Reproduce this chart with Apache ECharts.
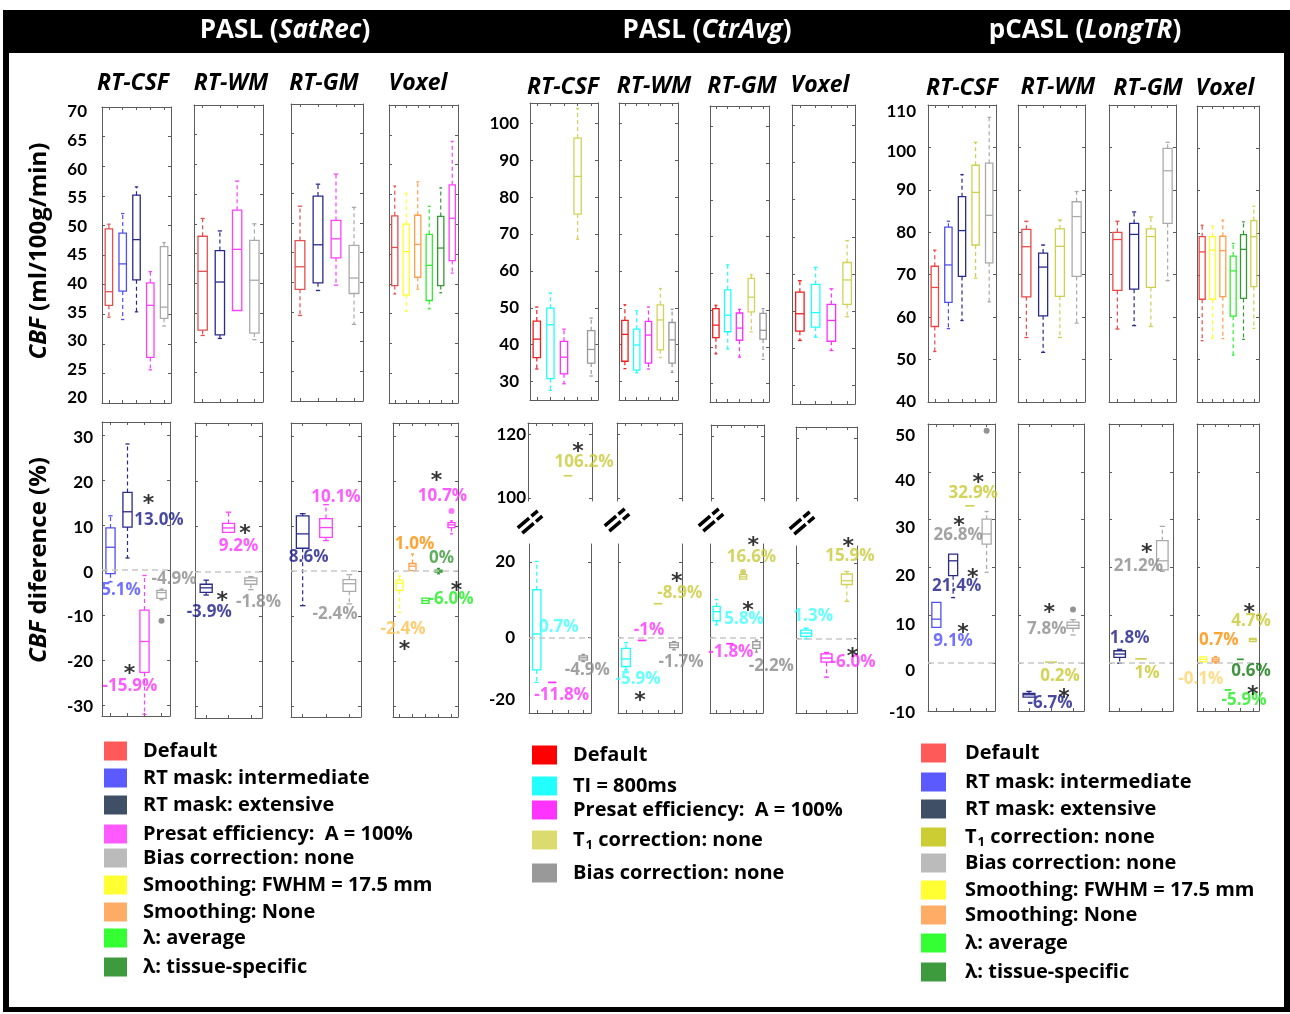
<!DOCTYPE html>
<html><head><meta charset="utf-8">
<script src="https://cdn.jsdelivr.net/npm/echarts@6/dist/echarts.min.js"></script>
<style>html,body{margin:0;padding:0;background:#fff}#c{width:1290px;height:1014px}</style>
</head><body><div id="c"></div>
<script>
// ---------------- DATA (box stats: [min, Q1, median, Q3, max]) ----------------
// PASL (SatRec) — CBF (ml/100g/min)
const satRecCBF_CSF_keys = ['def','int','ext','pre','bias'];
const satRecCBF_CSF = [[34.5,36.5,38.8,49.4,50.2],[34.1,38.9,43.5,48.7,52.0],[35.4,40.8,47.6,55.1,56.5],[25.6,27.7,36.5,40.3,42.2],[33.0,34.3,36.2,46.4,47.1]];
const satRecCBF_WM_keys = ['def','ext','pre','bias'];
const satRecCBF_WM = [[31.2,32.1,42.0,47.9,50.9],[30.7,31.3,40.2,45.5,48.8],[35.3,35.4,45.7,52.3,57.2],[30.5,31.6,40.5,47.2,50.0]];
const satRecCBF_GM_keys = ['def','ext','pre','bias'];
const satRecCBF_GM = [[34.4,38.8,42.6,47.0,52.8],[38.6,39.9,46.3,54.5,56.5],[39.5,44.1,47.3,50.4,58.2],[32.9,38.1,40.7,46.2,52.6]];
const satRecCBF_VOX_keys = ['def','fwhm','none','lavg','ltis','pre'];
const satRecCBF_VOX = [[38.3,39.7,46.1,51.4,56.4],[35.4,38.1,45.4,50.0,55.2],[39.1,41.1,46.6,51.5,57.1],[35.8,37.2,43.1,48.3,53.0],[38.5,39.7,46.0,51.3,56.1],[41.8,43.9,51.0,56.6,63.9]];
// PASL (SatRec) — CBF difference (%)
const satRecDiff_CSF_keys = ['int','ext','pre','bias'];
const satRecDiff_CSF = [[-2.6,-0.8,5.1,9.4,12.1],[2.7,9.6,13.0,17.3,28.1],[-32.1,-22.8,-15.9,-8.9,-1.2],[-6.6,-6.3,-5.0,-4.5,-4.2]];
const satRecDiff_WM_keys = ['ext','pre','bias'];
const satRecDiff_WM = [[-5.2,-4.6,-3.6,-2.8,-1.9],[8.5,8.7,9.7,10.7,13.2],[-4.0,-2.8,-2.0,-1.4,-1.1]];
const satRecDiff_GM_keys = ['ext','pre','bias'];
const satRecDiff_GM = [[-7.7,5.1,8.3,12.3,12.8],[6.8,7.5,9.7,11.7,14.8],[-7.3,-4.5,-2.8,-1.9,-0.8]];
const satRecDiff_VOX_keys = ['fwhm','none','lavg','ltis','pre'];
const satRecDiff_VOX = [[-9.2,-4.3,-2.7,-2.0,-1.1],[0.0,0.1,1.1,1.7,3.8],[-7.2,-7.2,-6.6,-6.0,-6.0],[-0.6,-0.2,0.0,0.2,0.6],[8.3,9.7,10.3,10.8,11.2]];

// PASL (CtrAvg) — CBF
const ctrAvgCBF_keys = ['def','ti','pre','t1','bias'];
const ctrAvgCBF_CSF = [[33.4,36.5,41.5,46.4,50.2],[27.6,30.8,45.4,49.9,54.0],[29.4,32.1,36.6,40.9,44.2],[68.6,75.4,85.6,96.0,104.0],[31.5,35.0,38.7,43.8,47.2]];
const ctrAvgCBF_WM = [[33.5,35.5,42.8,46.6,50.8],[32.4,33.1,39.9,44.2,49.2],[33.4,35.0,42.6,46.3,50.2],[36.5,38.6,46.7,50.8,55.2],[32.5,35.0,41.3,46.0,49.6]];
const ctrAvgCBF_GM = [[38.1,42.5,45.9,50.4,51.3],[39.4,44.1,48.6,55.5,62.3],[37.2,41.8,45.1,49.2,50.2],[44.1,49.5,53.5,58.6,59.6],[36.6,42.1,44.5,49.1,50.4]];
const ctrAvgCBF_VOX_keys = ['def','ti','pre','t1'];
const ctrAvgCBF_VOX = [[42.1,44.6,49.3,55.1,58.2],[43.0,45.7,49.6,57.2,61.8],[39.4,41.9,47.5,51.8,56.0],[48.5,51.8,58.4,63.1,69.0]];
// PASL (CtrAvg) — CBF difference (%)
const ctrAvgDiff_keys = ['ti','pre','t1','bias'];
const ctrAvgDiff_CSF = [[-11.9,-8.6,0.9,12.6,20.1],[-11.9,-11.9,-11.9,-11.9,-11.9],[106.9,107.0,107.0,107.0,107.1],[-6.4,-6.0,-5.4,-4.9,-4.5]];
const ctrAvgDiff_WM = [[-8.6,-7.7,-5.7,-2.9,-1.4],[-0.8,-0.8,-0.8,-0.8,-0.8],[8.9,8.9,8.9,8.9,8.9],[-3.3,-2.7,-2.0,-1.4,-1.1]];
const ctrAvgDiff_GM = [[3.3,4.4,6.8,8.2,10.0],[-1.7,-1.7,-1.7,-1.7,-1.7],[15.4,15.4,16.0,16.6,16.6],[-3.9,-2.9,-2.0,-1.1,-0.7]];
const ctrAvgDiff_VOX_keys = ['ti','pre','t1'];
const ctrAvgDiff_VOX = [[-0.2,0.5,1.4,2.2,2.7],[-10.4,-6.4,-5.3,-4.2,-3.8],[9.9,14.4,15.4,17.2,17.9]];

// pCASL (LongTR) — CBF
const longTRCBF_CSF_keys = ['def','int','ext','t1','bias'];
const longTRCBF_CSF = [[51.9,57.8,67.0,72.0,75.8],[57.3,63.5,72.3,81.2,82.6],[59.2,69.6,80.4,88.4,93.6],[69.2,77.0,89.4,95.8,101.2],[63.6,72.8,84.0,96.3,107.1]];
const longTRCBF_WM_keys = ['def','ext','t1','bias'];
const longTRCBF_WM = [[55.2,64.8,76.6,80.7,82.6],[51.7,60.3,71.8,75.1,77.0],[55.2,64.9,76.7,80.8,82.9],[58.6,69.6,83.7,87.2,89.6]];
const longTRCBF_GM_keys = ['def','ext','t1','bias'];
const longTRCBF_GM = [[57.2,66.3,78.3,80.0,82.6],[58.0,66.6,79.5,82.1,84.8],[57.8,67.0,79.0,80.8,83.6],[68.6,82.1,94.5,99.8,101.2]];
const longTRCBF_VOX_keys = ['def','fwhm','none','lavg','ltis','t1'];
const longTRCBF_VOX = [[54.5,64.3,75.5,79.1,81.8],[55.1,64.3,75.9,79.1,81.6],[55.0,64.9,75.8,79.2,83.0],[51.1,60.3,71.0,74.5,77.5],[54.8,64.5,76.1,79.6,82.6],[57.4,67.3,79.1,82.9,86.3]];
// pCASL (LongTR) — CBF difference (%)
const longTRDiff_CSF_keys = ['int','ext','t1','bias'];
const longTRDiff_CSF = [[7.3,7.5,9.2,12.7,12.9],[13.7,18.3,21.4,22.8,23.0],[32.9,32.9,32.9,32.9,32.9],[19.0,24.9,27.0,30.1,31.7]];
const longTRDiff_WM_keys = ['ext','t1','bias'];
const longTRDiff_WM = [[-7.3,-7.1,-6.6,-6.3,-5.9],[0.2,0.2,0.2,0.2,0.2],[5.9,7.3,7.9,8.6,9.1]];
const longTRDiff_GM_keys = ['ext','t1','bias'];
const longTRDiff_GM = [[0.0,1.2,1.9,2.6,2.9],[0.9,0.9,0.9,0.9,0.9],[19.2,19.5,21.4,25.6,28.6]];
const longTRDiff_VOX_keys = ['fwhm','none','lavg','ltis','t1'];
const longTRDiff_VOX = [[0.2,0.3,0.8,1.3,1.5],[0.0,0.3,0.7,1.1,1.4],[-5.6,-5.6,-5.6,-5.6,-5.6],[0.8,0.8,0.8,0.8,0.8],[4.5,4.5,4.9,5.2,5.2]];

// Outliers: [panel, category index, value, colour key]
const outlierPoints = [['p1b0',3,-11.3,'g'],['p1b3',4,13.4,'m'],['p2b2l',2,17.3,'o'],['p3b0',3,48.6,'g'],['p3b1',2,11.2,'g']];

// Tick labels
const ticksP1Top = [20,25,30,35,40,45,50,55,60,65,70];
const ticksP1Bot = [-30,-20,-10,0,10,20,30];
const ticksP2Top = [30,40,50,60,70,80,90,100];
const ticksP2BotUp = [100,120];
const ticksP2BotLow = [-20,0,20];
const ticksP3Top = [40,50,60,70,80,90,100,110];
const ticksP3Bot = [-10,0,10,20,30,40,50];

// Texts
const panelTitles = [['PASL (','SatRec',')'],['PASL (','CtrAvg',')'],['pCASL (','LongTR',')']];
const regionNames = ['RT-CSF','RT-WM','RT-GM','Voxel'];
const yNameTop = ['CBF',' (ml/100g/min)'];
const yNameBot = ['CBF',' diference (%)'];
const legendP1 = ['Default','RT mask: intermediate','RT mask: extensive','Presat efficiency:  A = 100%','Bias correction: none','Smoothing: FWHM = 17.5 mm','Smoothing: None','λ: average','λ: tissue-specific'];
const legendP1Keys = ['def','int','ext','pre','bias','fwhm','none','lavg','ltis'];
const legendP2 = ['Default','TI = 800ms','Presat efficiency:  A = 100%','T1 correction: none','Bias correction: none'];
const legendP2Keys = ['def','ti','pre','t1','bias'];
const legendP3 = ['Default','RT mask: intermediate','RT mask: extensive','T1 correction: none','Bias correction: none','Smoothing: FWHM = 17.5 mm','Smoothing: None','λ: average','λ: tissue-specific'];
const legendP3Keys = ['def','int','ext','t1','bias','fwhm','none','lavg','ltis'];

// Percentage annotations: [panel, category, value, text, colour key, dx, dy]
const annotations = [
 ['p1b0',0,-4.4,'5.1%','int',10.5],['p1b0',1,11.2,'13.0%','ext',31.5],['p1b0',1,15.9,'*','star',21],
 ['p1b0',1,-25.9,'-15.9%','pre',2.5],['p1b0',1,-21.8,'*','star',2],['p1b0',3,-2.0,'-4.9%','gray',12.5],
 ['p1b1',0,-8.9,'-3.9%','ext',3],['p1b1',0,-5.3,'*','star',16],['p1b1',1,5.6,'9.2%','pre',10],
 ['p1b1',1,9.6,'*','star',16.5],['p1b1',2,-6.7,'-1.8%','gray',7.7],
 ['p1b2',0,3.2,'8.6%','ext',6],['p1b2',1,16.5,'10.1%','pre',10],['p1b2',2,-9.6,'-2.4%','gray',-14.3],
 ['p1b3',0,-12.9,'-2.4%','lorange',3.5],['p1b3',0,-16.3,'*','star',5],['p1b3',1,6.1,'1.0%','orange',2],
 ['p1b3',3,3.0,'0%','dkg',3],['p1b3',2,-6.3,'-6.0%','green',25.5],['p1b3',4,-3.1,'*','star',5],
 ['p1b3',4,16.7,'10.7%','pre',-9],['p1b3',4,21.4,'*','star',-15],
 ['p2b0u',2,111.2,'106.2%','t1a',16],['p2b0u',2,116.3,'*','star',10],
 ['p2b0l',0,2.8,'0.7%','cyan',22],['p2b0l',1,-15.2,'-11.8%','pre',9.5],['p2b0l',3,-8.8,'-4.9%','grayB',4],
 ['p2b1l',0,-11.0,'-5.9%','cyan',12],['p2b1l',0,-15.4,'*','star',14],['p2b1l',1,2.0,'-1%','pre',7],
 ['p2b1l',2,11.7,'-8.9%','t1a',21.7],['p2b1l',3,16.2,'*','star',2.7],['p2b1l',3,-6.6,'-1.7%','grayB',7],
 ['p2b2l',2,4.9,'5.8%','cyan',1],['p2b2l',2,8.6,'*','star',5],['p2b2l',1,-3.9,'-1.8%','pre',1],
 ['p2b2l',2,21.1,'16.6%','t1a',8.4],['p2b2l',2,21.1,'*','star',10.2,-17],['p2b2l',3,-7.5,'-2.2%','grayB',15],
 ['p2b3l',0,5.8,'1.3%','cyan',7],['p2b3l',1,-6.4,'-6.0%','pre',26.5],['p2b3l',1,-3.6,'*','star',26],
 ['p2b3l',2,22.0,'15.9%','t1a',3],['p2b3l',2,22.0,'*','star',1.5,-15],
 ['p3b0',1,4.7,'9.1%','int',0],['p3b0',1,7.6,'*','star',10],['p3b0',1,16.2,'21.4%','ext',3.6],
 ['p3b0',2,18.9,'*','star',3],['p3b0',2,35.6,'32.9%','t1b',3.4],['p3b0',2,38.9,'*','star',8.4],
 ['p3b0',1,26.8,'26.8%','gray',5],['p3b0',1,29.8,'*','star',6],
 ['p3b1',1,-8.4,'-6.7%','ext',-1],['p3b1',1,-6.0,'*','star',13],['p3b1',1,-2.7,'0.2%','t1b',9],
 ['p3b1',1,7.1,'7.8%','gray',-4.3],['p3b1',1,11.6,'*','star',-1.7],
 ['p3b2',0,5.2,'1.8%','ext',10],['p3b2',1,-2.1,'1%','t1b',6],['p3b2',1,20.3,'21.2%','gray',-2.7],['p3b2',1,24.2,'*','star',5.7],
 ['p3b3',0,-3.4,'-0.1%','lyel',-2.4],['p3b3',1,4.8,'0.7%','orange',3.2],['p3b3',2,-7.7,'-5.9%','green',16],
 ['p3b3',4,-5.5,'*','star',0],['p3b3',3,-1.6,'0.6%','dkg2',10.6],['p3b3',4,8.7,'4.7%','t1b',-1.8],['p3b3',4,11.7,'*','star',-3.5]
];

// ---------------- STYLES ----------------
const FONT = 'Lato, "Open Sans", "DejaVu Sans", sans-serif';
const FONT2 = '"Open Sans", Lato, "DejaVu Sans", sans-serif';
const STARFONT = '"DejaVu Sans", sans-serif';
const AX = '#5c5c5c';
const BOX = {
  P1:{def:'#e25050',int:'#5050f0',ext:'#2a2a8a',pre:'#ff40ff',bias:'#aaaaaa',fwhm:'#ffff30',none:'#ff9f4a',lavg:'#30ee30',ltis:'#349a34'},
  P2:{def:'#f02020',ti:'#20ffff',pre:'#ff30ff',t1:'#d2d25a',bias:'#999999'},
  P3:{def:'#ec4848',int:'#5050f0',ext:'#2a2a8a',t1:'#cfcf50',bias:'#aaaaaa',fwhm:'#ffff30',none:'#ff9f4a',lavg:'#30ee30',ltis:'#349a34'}
};
const LEG = {
  P1:{def:'#ff5a5a',int:'#5a5aff',ext:'#3f5066',pre:'#ff5aff',bias:'#bbbbbb',fwhm:'#ffff33',none:'#ffad66',lavg:'#33ff33',ltis:'#3d9b3d'},
  P2:{def:'#ff0000',ti:'#22ffff',pre:'#ff33ff',t1:'#dcdc6e',bias:'#999999'},
  P3:{def:'#ff5a5a',int:'#5a5aff',ext:'#3f5066',t1:'#cccc33',bias:'#bbbbbb',fwhm:'#ffff33',none:'#ffad66',lavg:'#33ff33',ltis:'#3d9b3d'}
};
const TXT = {int:'#4d4dff',ext:'#1c1c87',pre:'#ff33ff',gray:'#8c8c8c',grayB:'#8a8a8a',t1a:'#c9c93a',t1b:'#c8c830',
  cyan:'#40ffff',orange:'#ff8c00',lorange:'#ffc14d',green:'#22ee22',dkg:'#3a9a3a',dkg2:'#127a12',lyel:'#ffd36a',star:'#000'};
const OUTC = {g:'#777777',m:'#ff55ff',o:'#c8c850'};

const axisDefs = {
  p1t:{min:20,max:70,ticks:ticksP1Top,margin:15,shift:v=>5-(70-v)/5},
  p1b:{min:-32.5,max:33,ticks:ticksP1Bot,margin:9,shift:v=>2,zero:true},
  p2t:{min:25,max:105.5,ticks:ticksP2Top,margin:11,shift:v=>0},
  p2bu:{min:99,max:123.7,ticks:ticksP2BotUp,margin:2,shift:v=>0},
  p2bl:{min:-20,max:24.7,ticks:ticksP2BotLow,margin:14,shift:v=>v===-20?-13:0,zero:true},
  p3t:{min:40,max:110,ticks:ticksP3Top,margin:12,shift:v=>({110:7,100:4})[v]||0},
  p3b:{min:-10,max:50,ticks:ticksP3Bot,margin:13,shift:v=>({50:12,40:9,30:8,20:8,10:9,0:7})[v]||2,zero:true}
};

const hi = s => s[2] > 60, lo = s => s[2] < 60;
const panels = [
 {id:'p1t0',box:[102,107,69,296],ax:'p1t',keys:satRecCBF_CSF_keys,stats:satRecCBF_CSF,pal:'P1',lab:true},
 {id:'p1t1',box:[194,105,69,297],ax:'p1t',keys:satRecCBF_WM_keys,stats:satRecCBF_WM,pal:'P1'},
 {id:'p1t2',box:[291,104,72,297],ax:'p1t',keys:satRecCBF_GM_keys,stats:satRecCBF_GM,pal:'P1'},
 {id:'p1t3',box:[389,105,69,298],ax:'p1t',keys:satRecCBF_VOX_keys,stats:satRecCBF_VOX,pal:'P1'},
 {id:'p1b0',box:[102,422,68,294],ax:'p1b',keys:satRecDiff_CSF_keys,stats:satRecDiff_CSF,pal:'P1',lab:true},
 {id:'p1b1',box:[195,423,67,295],ax:'p1b',keys:satRecDiff_WM_keys,stats:satRecDiff_WM,pal:'P1'},
 {id:'p1b2',box:[291,423,70,294],ax:'p1b',keys:satRecDiff_GM_keys,stats:satRecDiff_GM,pal:'P1'},
 {id:'p1b3',box:[393,423,65,294],ax:'p1b',keys:satRecDiff_VOX_keys,stats:satRecDiff_VOX,pal:'P1'},
 {id:'p2t0',box:[530,103,68,297],ax:'p2t',keys:ctrAvgCBF_keys,stats:ctrAvgCBF_CSF,pal:'P2',lab:true},
 {id:'p2t1',box:[619,103,59,297],ax:'p2t',keys:ctrAvgCBF_keys,stats:ctrAvgCBF_WM,pal:'P2'},
 {id:'p2t2',box:[710,106,59,296],ax:'p2t',keys:ctrAvgCBF_keys,stats:ctrAvgCBF_GM,pal:'P2'},
 {id:'p2t3',box:[792,105,63,299],ax:'p2t',keys:ctrAvgCBF_VOX_keys,stats:ctrAvgCBF_VOX,pal:'P2'},
 {id:'p2b0u',box:[528,423,64,78],ax:'p2bu',keys:ctrAvgDiff_keys,stats:ctrAvgDiff_CSF,pal:'P2',lab:true,filter:hi,noBottom:true},
 {id:'p2b1u',box:[617,423,65,78],ax:'p2bu',keys:ctrAvgDiff_keys,stats:ctrAvgDiff_WM,pal:'P2',filter:hi,noBottom:true},
 {id:'p2b2u',box:[711,425,53,76],ax:'p2bu',keys:ctrAvgDiff_keys,stats:ctrAvgDiff_GM,pal:'P2',filter:hi,noBottom:true},
 {id:'p2b3u',box:[796,427,61,74],ax:'p2bu',keys:ctrAvgDiff_VOX_keys,stats:ctrAvgDiff_VOX,pal:'P2',filter:hi,noBottom:true},
 {id:'p2b0l',box:[529,544,62,169],ax:'p2bl',keys:ctrAvgDiff_keys,stats:ctrAvgDiff_CSF,pal:'P2',lab:true,filter:lo,noTop:true},
 {id:'p2b1l',box:[618,544,64,169],ax:'p2bl',keys:ctrAvgDiff_keys,stats:ctrAvgDiff_WM,pal:'P2',filter:lo,noTop:true},
 {id:'p2b2l',box:[710,544,53,169],ax:'p2bl',keys:ctrAvgDiff_keys,stats:ctrAvgDiff_GM,pal:'P2',filter:lo,noTop:true},
 {id:'p2b3l',box:[796,546,61,167],ax:'p2bl',keys:ctrAvgDiff_VOX_keys,stats:ctrAvgDiff_VOX,pal:'P2',filter:lo,noTop:true},
 {id:'p3t0',box:[928,105,68,297],ax:'p3t',keys:longTRCBF_CSF_keys,stats:longTRCBF_CSF,pal:'P3',lab:true},
 {id:'p3t1',box:[1018,105,67,297],ax:'p3t',keys:longTRCBF_WM_keys,stats:longTRCBF_WM,pal:'P3'},
 {id:'p3t2',box:[1109,105,67,297],ax:'p3t',keys:longTRCBF_GM_keys,stats:longTRCBF_GM,pal:'P3'},
 {id:'p3t3',box:[1197,106,62,296],ax:'p3t',keys:longTRCBF_VOX_keys,stats:longTRCBF_VOX,pal:'P3'},
 {id:'p3b0',box:[928,424,67,287],ax:'p3b',keys:longTRDiff_CSF_keys,stats:longTRDiff_CSF,pal:'P3',lab:true},
 {id:'p3b1',box:[1018,424,66,287],ax:'p3b',keys:longTRDiff_WM_keys,stats:longTRDiff_WM,pal:'P3'},
 {id:'p3b2',box:[1109,424,64,287],ax:'p3b',keys:longTRDiff_GM_keys,stats:longTRDiff_GM,pal:'P3'},
 {id:'p3b3',box:[1197,424,62,287],ax:'p3b',keys:longTRDiff_VOX_keys,stats:longTRDiff_VOX,pal:'P3'}
];

function renderBox(params, api) {
  const x = api.value(0);
  const v = [1,2,3,4,5].map(i => api.value(i));
  const pts = v.map(val => api.coord([x, val]));
  const cx = pts[0][0];
  const y = pts.map(p => p[1]);
  const band = api.size([1,0])[0];
  const bw = Math.max(6, band * 0.54);
  const cw = bw * 0.45;
  const col = api.visual('color');
  const solid = {stroke:col, lineWidth:1.3, fill:null};
  const dashed = {stroke:col, lineWidth:1.2, lineDash:[4,3], fill:null};
  const L = (x1,y1,x2,y2,st) => ({type:'line', shape:{x1,y1,x2,y2}, style:st});
  const ch = [];
  if (Math.abs(y[1]-y[3]) < 1.5) {
    ch.push(L(cx-bw/2,y[2],cx+bw/2,y[2],{stroke:col,lineWidth:1.7}));
  } else {
    ch.push({type:'rect', shape:{x:cx-bw/2, y:y[3], width:bw, height:y[1]-y[3]}, style:{stroke:col, lineWidth:1.3, fill:'none'}});
    ch.push(L(cx-bw/2,y[2],cx+bw/2,y[2],solid));
  }
  if (y[0]-y[1] > 1) { ch.push(L(cx,y[1],cx,y[0],dashed)); ch.push(L(cx-cw/2,y[0],cx+cw/2,y[0],solid)); }
  if (y[3]-y[4] > 1) { ch.push(L(cx,y[3],cx,y[4],dashed)); ch.push(L(cx-cw/2,y[4],cx+cw/2,y[4],solid)); }
  return {type:'group', children:ch};
}

const grid = [], xAxis = [], yAxis = [], series = [];
panels.forEach((p, gi) => {
  const a = axisDefs[p.ax];
  const [l,t,w,h] = p.box;
  grid.push({left:l, top:t, width:w, height:h, containLabel:false});
  const cats = p.keys.map((k,i) => k + i);
  const ls = {color:AX, width:1};
  const xa = (pos, show) => ({gridIndex:gi, type:'category', data:cats, position:pos, boundaryGap:true,
    axisLine:{show, onZero:false, lineStyle:ls},
    axisTick:{show, inside:true, alignWithLabel:true, interval:0, length:3, lineStyle:ls},
    axisLabel:{show:false}, splitLine:{show:false}});
  xAxis.push(xa('bottom', !p.noBottom));
  xAxis.push(xa('top', !p.noTop));
  const rich = {};
  const fmt = v => {
    const s = Math.round(a.shift(v));
    const key = 's' + (s < 0 ? 'm' + (-s) : s);
    if (!rich[key]) rich[key] = {fontFamily:FONT, fontWeight:'bold', fontSize:17, color:'#000',
      padding: s >= 0 ? [2*s,0,0,0] : [0,0,-2*s,0]};
    return '{' + key + '|' + v + '}';
  };
  a.ticks.forEach(fmt);
  const ya = (pos, lab) => ({gridIndex:gi, type:'value', min:a.min, max:a.max, position:pos,
    axisLine:{show:true, onZero:false, lineStyle:ls},
    axisTick:{show:true, inside:true, length:3, customValues:a.ticks, lineStyle:ls},
    axisLabel:{show:lab, customValues:a.ticks, margin:a.margin, formatter:fmt, rich,
      fontFamily:FONT, fontWeight:'bold', fontSize:17, color:'#000'},
    splitLine:{show:false}});
  yAxis.push(ya('left', !!p.lab));
  yAxis.push(ya('right', false));

  const items = p.stats.map((s,i) => ({s,i})).filter(o => !p.filter || p.filter(o.s))
    .map(o => ({value:[o.i].concat(o.s), itemStyle:{color:BOX[p.pal][p.keys[o.i]]}}));
  series.push({type:'custom', xAxisIndex:2*gi, yAxisIndex:2*gi, renderItem:renderBox, data:items,
    encode:{x:0, y:[1,2,3,4,5]}, silent:true, clip:false, z:3});

  const pts = [{value:[0,0], symbolSize:0, label:{show:false}}];
  outlierPoints.filter(o => o[0] === p.id).forEach(o => {
    pts.push({value:[o[1],o[2]], symbol:'circle', symbolSize:6, itemStyle:{color:OUTC[o[3]]}, label:{show:false}});
  });
  annotations.filter(n => n[0] === p.id).forEach(n => {
    const star = n[4] === 'star';
    pts.push({value:[n[1], n[2]], symbolSize:0, label:{show:true, position:'inside', formatter:n[3],
      color:TXT[n[4]], fontFamily:star?STARFONT:FONT2, fontWeight:'bold', fontSize:star?22:17,
      offset:[n[5], (n[6]||0) + (star?6:0)]}});
  });
  const sc = {type:'scatter', xAxisIndex:2*gi, yAxisIndex:2*gi, data:pts, silent:true, clip:false, z:5};
  if (a.zero) sc.markLine = {silent:true, symbol:['none','none'], label:{show:false},
    lineStyle:{type:[6,4], color:'#c8c8c8', width:1.5}, data:[{yAxis:0}], animation:false};
  series.push(sc);
});

// ---------------- GRAPHIC DECORATION ----------------
const graphic = [];
graphic.push({type:'rect', shape:{x:3,y:10,width:1287,height:43}, style:{fill:'#000'}});
graphic.push({type:'rect', shape:{x:3,y:10,width:6,height:1002}, style:{fill:'#000'}});
graphic.push({type:'rect', shape:{x:1284,y:10,width:6,height:1002}, style:{fill:'#000'}});
graphic.push({type:'rect', shape:{x:3,y:1007,width:1287,height:5}, style:{fill:'#000'}});
const titleX = [285, 707, 1085];
panelTitles.forEach((tt, i) => {
  graphic.push({type:'text', x:titleX[i], y:31, z:10, style:{
    text:'{n|' + tt[0] + '}{i|' + tt[1] + '}{n|' + tt[2] + '}', align:'center', verticalAlign:'middle', fill:'#fff',
    rich:{n:{fill:'#fff', fontSize:26, fontWeight:'bold', fontFamily:FONT2}, i:{fill:'#fff', fontSize:26, fontWeight:'bold', fontStyle:'italic', fontFamily:FONT2}}}});
});
const headerPos = [[133,83],[231,83],[324,83],[418,83],[563,87],[654,86],[742,86],[820,85],[962,88],[1058,87],[1148,88],[1225,88]];
headerPos.forEach((hp, i) => {
  graphic.push({type:'text', x:hp[0], y:hp[1], z:10, style:{text:regionNames[i % 4], align:'center', verticalAlign:'middle',
    fill:'#000', fontSize:23, fontWeight:'bold', fontStyle:'italic', fontFamily:FONT2}});
});
[[yNameTop, 251], [yNameBot, 560]].forEach(([nm, yy]) => {
  graphic.push({type:'text', x:39, y:yy, rotation:Math.PI/2, z:10, style:{
    text:'{i|' + nm[0] + '}{n|' + nm[1] + '}', align:'center', verticalAlign:'middle',
    rich:{i:{fill:'#000', fontSize:24, fontWeight:'bold', fontStyle:'italic', fontFamily:FONT2},
          n:{fill:'#000', fontSize:24, fontWeight:'bold', fontFamily:FONT2}}}});
});
// axis break marks
[[530,522],[617,520],[711,520],[802,523]].forEach(([cx, cy]) => {
  [-3.5, 3.5].forEach(o => {
    const dx = 10, dy = -8.5, nx = 0.65 * o, ny = 0.76 * o;
    graphic.push({type:'line', z:10, shape:{x1:cx-dx+nx, y1:cy-dy+ny, x2:cx+dx+nx, y2:cy+dy+ny},
      style:{stroke:'#000', lineWidth:3.5, lineDash:[15,3]}});
  });
});
// legends
function legendLabel(s) {
  if (s.indexOf('T1') === 0) return '{n|T}{sub|1}{n|' + s.slice(2) + '}';
  return '{n|' + s + '}';
}
const legendRich = {n:{fill:'#000', fontSize:20, fontWeight:'bold', fontFamily:FONT2},
  sub:{fill:'#000', fontSize:13, fontWeight:'bold', fontFamily:FONT2, padding:[10,0,0,1]}};
function addLegend(labels, keys, pal, sx, sw, sh, tx, rows) {
  labels.forEach((lb, i) => {
    graphic.push({type:'rect', z:10, shape:{x:sx, y:rows[i]-sh/2, width:sw, height:sh}, style:{fill:LEG[pal][keys[i]]}});
    graphic.push({type:'text', z:10, x:tx, y:rows[i], style:{text:legendLabel(lb), align:'left', verticalAlign:'middle', rich:legendRich}});
  });
}
addLegend(legendP1, legendP1Keys, 'P1', 104, 23, 19, 143, [751,778,805,834,858,885,912,938,967]);
addLegend(legendP2, legendP2Keys, 'P2', 532, 25, 19, 573, [755,786,810,840,873]);
addLegend(legendP3, legendP3Keys, 'P3', 921, 25, 19, 965, [753,782,809,837,863,890,915,943,972]);

const chart = echarts.init(document.getElementById('c'), null, {renderer:'canvas'});
chart.setOption({animation:false, backgroundColor:'#fff', grid, xAxis, yAxis, series, graphic});
</script></body></html>
